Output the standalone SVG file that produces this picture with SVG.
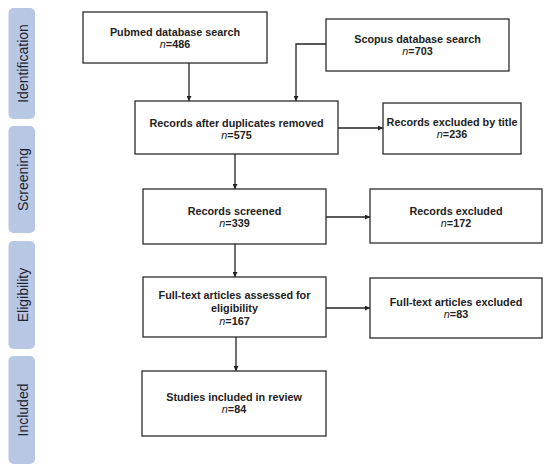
<svg xmlns="http://www.w3.org/2000/svg" width="550" height="473" viewBox="0 0 550 473">
<style>
.stage{fill:#b8c7e4;}
.stxt{font-family:"Liberation Sans",Arial,sans-serif;font-size:14px;fill:#1f2430;text-anchor:middle;}
.box{fill:#fff;stroke:#2b2b2b;stroke-width:1.3;}
.t{font-family:"Liberation Sans",Arial,sans-serif;font-size:10.8px;font-weight:bold;fill:#222;text-anchor:middle;}
.i{font-style:italic;font-weight:normal;}
.c{fill:none;stroke:#222;stroke-width:1.3;}
</style>
<defs>
<marker id="ah" viewBox="0 0 10 10" refX="10" refY="5" markerWidth="5" markerHeight="5" orient="auto" markerUnits="userSpaceOnUse">
<path d="M0,0 L10,5 L0,10 z" fill="#222"/>
</marker>
</defs>
<rect width="550" height="473" fill="#fff"/>
<g id="stages">
<g id="s-identification"><rect class="stage" x="8.5" y="8" width="26.5" height="111" rx="5"/><text class="stxt" transform="translate(27.5,63.5) rotate(-90)">Identification</text></g>
<g id="s-screening"><rect class="stage" x="8.5" y="126" width="26.5" height="107" rx="5"/><text class="stxt" transform="translate(27.5,179.5) rotate(-90)">Screening</text></g>
<g id="s-eligibility"><rect class="stage" x="8.5" y="241" width="26.5" height="108" rx="5"/><text class="stxt" transform="translate(27.5,295) rotate(-90)">Eligibility</text></g>
<g id="s-included"><rect class="stage" x="8.5" y="356" width="26.5" height="108" rx="5"/><text class="stxt" transform="translate(27.5,410) rotate(-90)">Included</text></g>
</g>
<g id="connectors">
<line class="c" x1="189" y1="63" x2="189" y2="101" marker-end="url(#ah)"/>
<polyline class="c" points="326,44 296,44 296,101" marker-end="url(#ah)"/>
<line class="c" x1="338" y1="128" x2="383" y2="128" marker-end="url(#ah)"/>
<line class="c" x1="235" y1="154" x2="235" y2="189" marker-end="url(#ah)"/>
<line class="c" x1="326" y1="217" x2="370" y2="217" marker-end="url(#ah)"/>
<line class="c" x1="235" y1="244" x2="235" y2="277" marker-end="url(#ah)"/>
<line class="c" x1="326" y1="308" x2="370" y2="308" marker-end="url(#ah)"/>
<line class="c" x1="236" y1="337" x2="236" y2="371" marker-end="url(#ah)"/>
</g>
<g id="n-pubmed"><rect class="box" x="83" y="12" width="184" height="51"/><text class="t" x="175" y="36">Pubmed database search</text><text class="t" x="175" y="48"><tspan class="i">n</tspan>=486</text></g>
<g id="n-scopus"><rect class="box" x="326" y="19" width="183" height="52"/><text class="t" x="417.5" y="43">Scopus database search</text><text class="t" x="417.5" y="55"><tspan class="i">n</tspan>=703</text></g>
<g id="n-dup"><rect class="box" x="135" y="101" width="203" height="53"/><text class="t" x="236.5" y="127">Records after duplicates removed</text><text class="t" x="236.5" y="139"><tspan class="i">n</tspan>=575</text></g>
<g id="n-title"><rect class="box" x="383" y="103" width="138" height="51"/><text class="t" x="452" y="126">Records excluded by title</text><text class="t" x="452" y="138"><tspan class="i">n</tspan>=236</text></g>
<g id="n-screened"><rect class="box" x="143" y="189" width="183" height="55"/><text class="t" x="234.5" y="215">Records screened</text><text class="t" x="234.5" y="227"><tspan class="i">n</tspan>=339</text></g>
<g id="n-excl"><rect class="box" x="370" y="189" width="172" height="54"/><text class="t" x="456" y="215">Records excluded</text><text class="t" x="456" y="227"><tspan class="i">n</tspan>=172</text></g>
<g id="n-full"><rect class="box" x="143" y="277" width="183" height="60"/><text class="t" x="234.5" y="299">Full-text articles assessed for</text><text class="t" x="234.5" y="312">eligibility</text><text class="t" x="234.5" y="325"><tspan class="i">n</tspan>=167</text></g>
<g id="n-fullex"><rect class="box" x="370" y="278" width="172" height="60"/><text class="t" x="456" y="306">Full-text articles excluded</text><text class="t" x="456" y="318"><tspan class="i">n</tspan>=83</text></g>
<g id="n-incl"><rect class="box" x="142" y="371" width="184" height="65"/><text class="t" x="234" y="401">Studies included in review</text><text class="t" x="234" y="413"><tspan class="i">n</tspan>=84</text></g>
</svg>
